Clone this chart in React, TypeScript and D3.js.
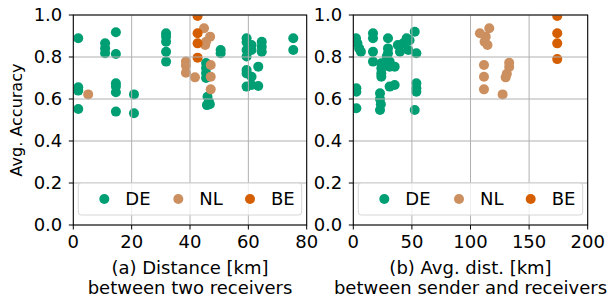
import React from "react";
import * as d3 from "d3";

// [distance km, avg accuracy]
const deLeft: [number, number][] = [
  [1.7, 0.889], [1.7, 0.656], [1.7, 0.64], [1.7, 0.552],
  [10.9, 0.865], [10.9, 0.841], [10.9, 0.818],
  [14.6, 0.918], [14.6, 0.814], [14.6, 0.675], [14.6, 0.66], [14.6, 0.632], [14.6, 0.54],
  [20.8, 0.622], [20.8, 0.532],
  [31.8, 0.913], [31.8, 0.897], [31.8, 0.873], [31.8, 0.825], [31.8, 0.778],
  [45.5, 0.771], [45.5, 0.748], [45.5, 0.724], [45.5, 0.7],
  [46, 0.611], [46.5, 0.587], [45.8, 0.571], [46.8, 0.575],
  [50.5, 0.833], [50.5, 0.818],
  [59.4, 0.889], [59.4, 0.87], [59.4, 0.833], [59.4, 0.802],
  [59.4, 0.738], [59.4, 0.722], [59.4, 0.659],
  [61.1, 0.857], [61.1, 0.833], [61.1, 0.706], [61.1, 0.667],
  [63.4, 0.754], [63.4, 0.662],
  [64.6, 0.873], [64.6, 0.849], [64.6, 0.825],
  [75.4, 0.889], [75.4, 0.833],
];
const nlLeft: [number, number][] = [
  [5.1, 0.622], [38.6, 0.778], [38.6, 0.759], [38.6, 0.725], [41.7, 0.703],
  [44.8, 0.937], [46.9, 0.897], [45.5, 0.873], [45.2, 0.857],
  [47.1, 0.762], [47.1, 0.706], [47.1, 0.646],
];
const beLeft: [number, number][] = [
  [42.6, 0.995], [42.6, 0.913], [42.6, 0.865], [42.6, 0.797],
];

const deRight: [number, number][] = [
  [2.3, 0.889], [3.5, 0.865], [5, 0.841], [6.5, 0.825],
  [2.6, 0.651], [2.6, 0.635], [2.6, 0.556],
  [16.8, 0.913], [16.8, 0.889], [16.8, 0.825], [16.8, 0.778],
  [23.9, 0.77], [23.9, 0.746], [23.9, 0.722], [23.9, 0.706],
  [22.8, 0.627], [22.8, 0.6], [23.5, 0.575], [22.8, 0.548],
  [29.6, 0.889], [29.6, 0.841], [29.6, 0.818], [28.5, 0.802],
  [31, 0.778], [31, 0.754], [31, 0.659], [35.3, 0.667], [35.3, 0.754],
  [38, 0.857], [39.8, 0.825], [42.6, 0.865], [45.5, 0.889], [47, 0.833], [48, 0.88],
  [52.4, 0.92], [53.8, 0.818], [53.8, 0.675], [53.8, 0.651], [53.8, 0.635], [52.4, 0.548],
];
const nlRight: [number, number][] = [
  [108, 0.913], [113, 0.897], [116, 0.937], [112, 0.873], [114.5, 0.857],
  [111.5, 0.762], [111.5, 0.706], [111.5, 0.646], [127.4, 0.622],
  [133, 0.773], [133, 0.752], [131, 0.72], [130, 0.703],
];
const beRight: [number, number][] = [
  [174, 0.995], [174, 0.913], [174, 0.865], [174, 0.79],
];

const countries = ["DE", "NL", "BE"];
const colors = ["#009e73", "#cc8f5f", "#d55e00"];
const yTicks = [0, 0.2, 0.4, 0.6, 0.8, 1.0];
const xTicksLeft = [0, 20, 40, 60, 80];
const xTicksRight = [0, 50, 100, 150, 200];

const FONT = "DejaVu Sans, sans-serif";
const FS = 18;
const top = 15;
const bottom = 225;
const r = 5;

function Panel({ id, x0, x1, xMax, xTicks, series, label1, label2, legendXs }: any) {
  const x = d3.scaleLinear().domain([0, xMax]).range([x0, x1]);
  const y = d3.scaleLinear().domain([0, 1]).range([bottom, top]);
  const lg = { x: x0 + 5, y: 183, w: x1 - x0 - 10, h: 32 };
  return (
    <g>
      <defs>
        <clipPath id={id}>
          <rect x={x0} y={top} width={x1 - x0} height={bottom - top} />
        </clipPath>
      </defs>
      <g clipPath={`url(#${id})`}>
        {series.map((pts: [number, number][], i: number) =>
          pts.map((p, j) => (
            <circle key={i + "-" + j} cx={x(p[0])} cy={y(p[1])} r={r} fill={colors[i]} />
          ))
        )}
      </g>
      {/* grid drawn over markers like matplotlib */}
      {xTicks.map((t: number) => (
        <line key={"gx" + t} x1={x(t)} x2={x(t)} y1={top} y2={bottom} stroke="#b0b0b0" strokeWidth={1} />
      ))}
      {yTicks.map((t) => (
        <line key={"gy" + t} x1={x0} x2={x1} y1={y(t)} y2={y(t)} stroke="#b0b0b0" strokeWidth={1} />
      ))}
      <rect x={x0} y={top} width={x1 - x0} height={bottom - top} fill="none" stroke="#000" strokeWidth={1} />
      {xTicks.map((t: number) => (
        <g key={"tx" + t}>
          <line x1={x(t)} x2={x(t)} y1={bottom} y2={bottom + 4.5} stroke="#000" />
          <text x={x(t)} y={247.5} textAnchor="middle" fontSize={FS} fontFamily={FONT}>{t}</text>
        </g>
      ))}
      {yTicks.map((t) => (
        <g key={"ty" + t}>
          <line x1={x0 - 4.5} x2={x0} y1={y(t)} y2={y(t)} stroke="#000" />
          <text x={x0 - 11} y={y(t)} dy="0.36em" textAnchor="end" fontSize={FS} fontFamily={FONT}>{t.toFixed(1)}</text>
        </g>
      ))}
      <text x={(x0 + x1) / 2} y={274} textAnchor="middle" fontSize={FS} fontFamily={FONT}>{label1}</text>
      <text x={(x0 + x1) / 2} y={293.5} textAnchor="middle" fontSize={FS} fontFamily={FONT}>{label2}</text>
      <rect x={lg.x} y={lg.y} width={lg.w} height={lg.h} rx={3} fill="#fff" fillOpacity={0.8} stroke="#d6d6d6" />
      {countries.map((c, i) => (
        <g key={c}>
          <circle cx={legendXs[i]} cy={199} r={r} fill={colors[i]} />
          <text x={legendXs[i] + 21} y={199} dy="0.36em" fontSize={FS} fontFamily={FONT}>{c}</text>
        </g>
      ))}
    </g>
  );
}

export default function App() {
  return (
    <svg width={612} height={299} style={{ position: "absolute", left: 0, top: 0, background: "#fff" }}>
      <text transform="translate(22,120) rotate(-90)" textAnchor="middle" fontSize={16} fontFamily={FONT}>Avg. Accuracy</text>
      <Panel
        id="clipA" x0={73.3} x1={306.7} xMax={80} xTicks={xTicksLeft}
        series={[deLeft, nlLeft, beLeft]}
        label1="(a) Distance [km]" label2="between two receivers"
        legendXs={[104.3, 178.3, 250]}
      />
      <Panel
        id="clipB" x0={353.3} x1={587.7} xMax={200} xTicks={xTicksRight}
        series={[deRight, nlRight, beRight]}
        label1="(b) Avg. dist. [km]" label2="between sender and receivers"
        legendXs={[384.3, 459, 530.7]}
      />
    </svg>
  );
}
